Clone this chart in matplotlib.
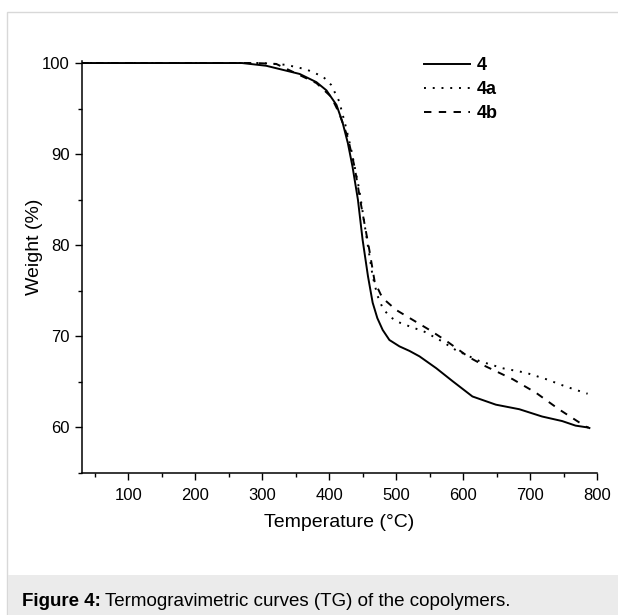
import matplotlib
matplotlib.use("Agg")
import matplotlib.pyplot as plt
from matplotlib.patches import Rectangle
from matplotlib.ticker import MultipleLocator

plt.rcParams["font.family"] = ["Liberation Sans", "DejaVu Sans"]

# TG curves: temperature (°C) vs. residual weight (%)
temp_4 = [30, 270, 306, 356, 381, 396, 411, 420, 428, 435, 443, 450, 458, 465,
          472, 480, 490, 505, 520, 535, 560, 584, 614, 649, 684, 718, 748, 768, 786]
weight_4 = [100, 100, 99.7, 98.8, 97.9, 97.0, 95.4, 93.5, 91.2, 88.6, 85.0, 80.6,
            76.6, 73.7, 72.0, 70.7, 69.6, 68.9, 68.4, 67.8, 66.5, 65.1, 63.4, 62.5,
            62.0, 61.2, 60.7, 60.2, 60.0]

temp_4a = [30, 300, 336, 366, 391, 403, 415, 425, 433, 445, 455, 465, 472, 480,
           490, 502, 527, 540, 565, 589, 624, 659, 694, 724, 753, 786]
weight_4a = [100, 100, 99.8, 99.3, 98.5, 97.6, 95.8, 93.0, 90.5, 86.1, 81.3, 76.6,
             74.5, 73.1, 72.2, 71.6, 70.9, 70.6, 69.6, 68.5, 67.3, 66.5, 66.0, 65.3,
             64.5, 63.7]

temp_4b = [30, 290, 321, 361, 381, 403, 415, 428, 438, 448, 460, 468, 477, 483,
           500, 525, 550, 575, 609, 634, 674, 709, 743, 783, 790]
weight_4b = [100, 100, 99.9, 98.5, 97.8, 96.3, 94.5, 91.8, 88.6, 84.3, 79.5, 76.0,
             74.6, 74.0, 72.9, 71.8, 70.7, 69.5, 67.7, 66.7, 65.3, 63.8, 62.0, 60.1,
             59.9]

labels = ["4", "4a", "4b"]

fig = plt.figure(figsize=(6.18, 6.15), dpi=100)

# page frame and caption strip
fig.patches.append(Rectangle((7 / 618, -0.1), 1.2, 1.1 - 12 / 615,
                             transform=fig.transFigure, facecolor="none",
                             edgecolor="#d8d8d8", linewidth=1.0, zorder=0))
fig.patches.append(Rectangle((7.5 / 618, 0), 1.2, 40 / 615,
                             transform=fig.transFigure, facecolor="#ebebeb",
                             edgecolor="none", zorder=0))

ax = fig.add_axes([82 / 618, 1 - 473 / 615, 515 / 618, 411.8 / 615])

ax.plot(temp_4, weight_4, color="black", linewidth=1.4, linestyle="-", label=labels[0])
ax.plot(temp_4a, weight_4a, color="black", linewidth=1.4, linestyle=(0, (1, 3.5)),
        label=labels[1])
ax.plot(temp_4b, weight_4b, color="black", linewidth=1.4, linestyle=(0, (3.8, 3.8)),
        label=labels[2])

ax.set_xlim(31, 800)
ax.set_ylim(55, 100.2)
ax.xaxis.set_major_locator(MultipleLocator(100))
ax.xaxis.set_minor_locator(MultipleLocator(50))
ax.yaxis.set_minor_locator(MultipleLocator(5))
ax.set_yticks([60, 70, 80, 90, 100])

for side in ["top", "right"]:
    ax.spines[side].set_visible(False)
for side in ["left", "bottom"]:
    ax.spines[side].set_linewidth(1.1)

ax.tick_params(which="major", direction="out", length=5, width=1.0, labelsize=12)
ax.tick_params(axis="x", which="major", pad=6)
ax.tick_params(axis="y", which="major", pad=4)
ax.tick_params(which="minor", direction="out", length=3, width=1.0)

ax.set_xlabel("Temperature (°C)", fontsize=14, labelpad=8)
ax.set_ylabel("Weight (%)", fontsize=14)
ax.yaxis.set_label_coords(-0.076, 0.549)

leg = ax.legend(loc="upper left", bbox_to_anchor=(408 / 618, 1 - 41 / 615),
                bbox_transform=fig.transFigure, frameon=False,
                prop={"weight": "bold", "size": 13}, handlelength=2.55,
                handletextpad=0.35, labelspacing=0.38)

# caption with bold prefix
cap_y = 1 - 601 / 615
t1 = fig.text(22 / 618, cap_y, "Figure 4:", fontsize=13.5, fontweight="bold", va="center")
fig.canvas.draw()
bb = t1.get_window_extent()
fig.text(bb.x1 / fig.bbox.width + 4 / 618, cap_y,
         "Termogravimetric curves (TG) of the copolymers.", fontsize=13.5, va="center")

fig.savefig("out.png", dpi=100)
